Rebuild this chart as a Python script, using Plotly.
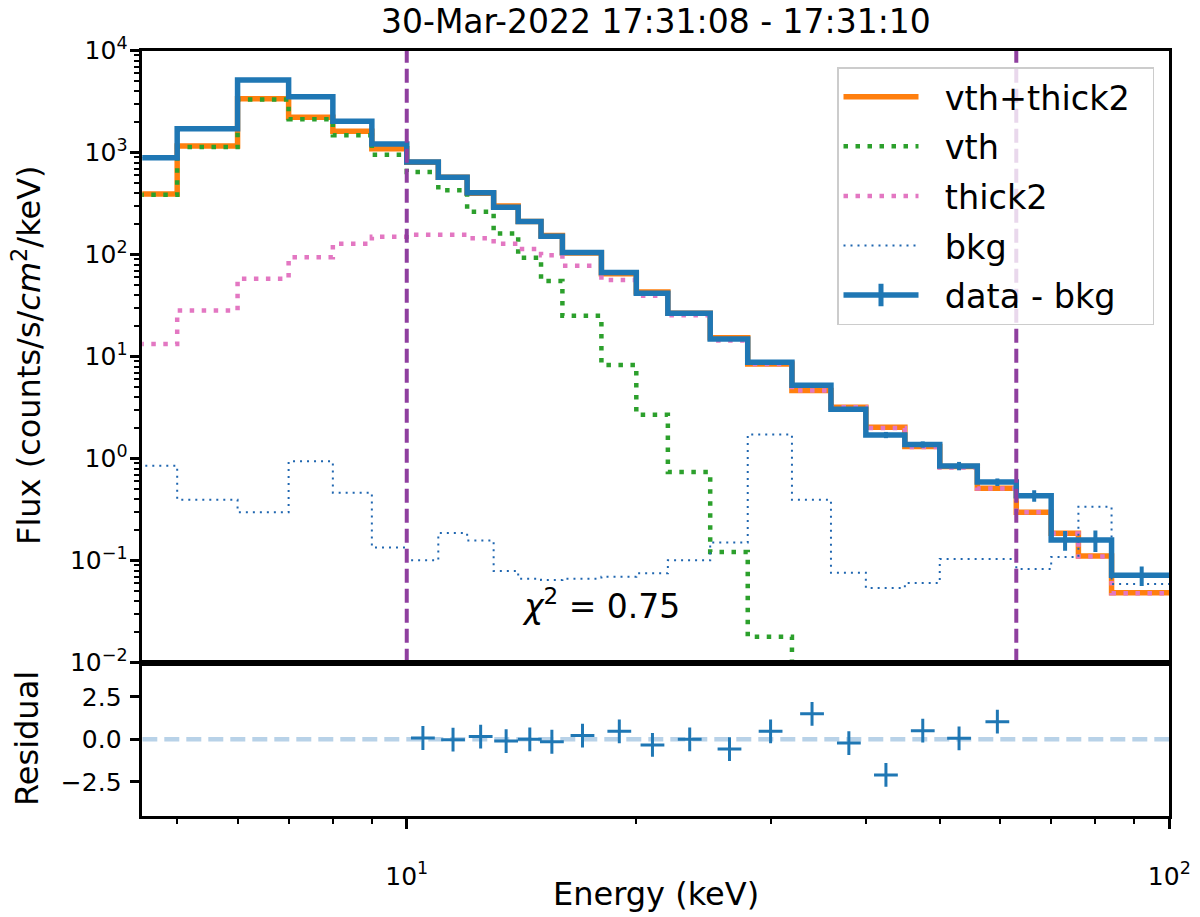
import plotly.graph_objects as go

# STIX energy bin edges (keV)
energy_edges = [4, 5, 6, 7, 8, 9, 10, 11, 12, 13, 14, 15, 16, 18, 20, 22, 25, 28,
                32, 36, 40, 45, 50, 56, 63, 70, 76, 84, 100]

# count flux per bin (counts/s/cm^2/keV)
data_bkg = [890, 1720, 5160, 3540, 2030, 1215, 810, 575, 405, 292, 212, 152, 105,
            67, 42, 26.6, 14.9, 8.8, 5.25, 3.05, 1.71, 1.38, 0.85, 0.59, 0.434,
            0.16, 0.16, 0.072]
data_err = [4, 5, 8, 6, 5, 4, 3.3, 2.8, 2.4, 2, 1.7, 1.5, 1.2, 1.0, 0.8, 0.6, 0.4,
            0.3, 0.24, 0.14, 0.12, 0.097, 0.08, 0.05, 0.056, 0.035, 0.038, 0.0155]
vth_thick2 = [393, 1164, 3383, 2223, 1622, 1094, 805, 576, 400, 300, 212, 154, 104,
              65, 43, 26.6, 15.3, 8.5, 4.65, 3.2, 2.03, 1.32, 0.84, 0.513, 0.299,
              0.186, 0.111, 0.0485]
vth = [386, 1136, 3325, 2129, 1483, 955, 648, 428, 264, 161, 93.5, 55.2, 25.2, 8.3,
       2.7, 0.74, 0.122, 0.018, 2.5e-3, 3e-4, 3e-5, 3e-6, 2e-7, 1e-8, 5e-10,
       2e-11, 5e-13, 1e-15]
thick2 = [13.3, 28.4, 58.2, 94.4, 128, 150, 157, 157, 145, 128, 114, 98.6, 78, 56.5,
          39.6, 25.5, 14.4, 8.5, 4.65, 3.2, 2.0, 1.3, 0.82, 0.51, 0.298, 0.185,
          0.11, 0.048]
bkg = [0.853, 0.396, 0.299, 0.942, 0.464, 0.135, 0.101, 0.187, 0.158, 0.0793,
       0.0667, 0.0647, 0.0667, 0.0697, 0.0752, 0.101, 0.151, 1.73, 0.396, 0.0762,
       0.054, 0.0604, 0.104, 0.104, 0.083, 0.109, 0.338, 0.059]

fit_range = [10, 63]
residual = [0.08, -0.02, 0.16, -0.1, 0.0, -0.14, 0.22, 0.47, -0.33, 0.0, -0.57,
            0.47, 1.5, -0.22, -2.09, 0.51, 0.06, 1.04]
chi2 = 0.75
title = '30-Mar-2022 17:31:08 - 17:31:10'

x_lim = [4.5, 100]
y_lim = [1e-2, 1e4]

blue = '#1f77b4'
orange = '#ff7f0e'
green = '#2ca02c'
pink = '#e377c2'
bkg_col = '#1f66b0'
purple = '#8f3f9f'
FONT = 'DejaVu Sans'

centers = [(a + b) / 2 for a, b in zip(energy_edges[:-1], energy_edges[1:])]
res_x = [c for c in centers if fit_range[0] <= c <= fit_range[1]]

# the page body puts the figure 8px in from the top-left corner
OFF = 8
W, H = 1200, 917


def px(x):
    return (x - OFF) / W


def py(y):
    return 1 - (y - OFF) / H


def steps(vals):
    return energy_edges, list(vals) + [vals[-1]]


fig = go.Figure()

def add_step(vals, color, width, dash):
    sx, sy = steps(vals)
    fig.add_trace(go.Scatter(x=sx, y=sy, mode='lines', line_shape='hv',
                             line=dict(color=color, width=width, dash=dash),
                             showlegend=False, xaxis='x', yaxis='y'))

add_step(vth_thick2, orange, 5.5, 'solid')
add_step(vth, green, 4.5, '4.5px,7.5px')
add_step(thick2, pink, 4.5, '4.5px,7.5px')
add_step(bkg, bkg_col, 2, '2px,5px')
add_step(data_bkg, blue, 5.5, 'solid')

fig.add_trace(go.Scatter(x=centers, y=data_bkg, mode='markers',
                         marker=dict(size=1, color=blue),
                         error_y=dict(type='data', array=data_err, thickness=4,
                                      width=0, color=blue),
                         showlegend=False, xaxis='x', yaxis='y'))

for e in fit_range:
    fig.add_trace(go.Scatter(x=[e, e], y=y_lim, mode='lines',
                             line=dict(color=purple, width=4, dash='14px,6px'),
                             showlegend=False, xaxis='x', yaxis='y'))

# residual panel
fig.add_trace(go.Scatter(x=x_lim, y=[0, 0], mode='lines',
                         line=dict(color='#b8d2e8', width=4.5, dash='15px,7px'),
                         showlegend=False, xaxis='x2', yaxis='y2'))
fig.add_trace(go.Scatter(x=res_x, y=residual, mode='markers',
                         marker=dict(symbol='cross-thin', size=17, color=blue,
                                     line=dict(width=3, color=blue)),
                         showlegend=False, xaxis='x2', yaxis='y2'))

# legend entries
legend_items = [
    ('vth+thick2', dict(color=orange, width=5.5), 'lines', None),
    ('vth', dict(color=green, width=4.5, dash='4.5px,7.5px'), 'lines', None),
    ('thick2', dict(color=pink, width=4.5, dash='4.5px,7.5px'), 'lines', None),
    ('bkg', dict(color=bkg_col, width=2, dash='2px,5px'), 'lines', None),
    ('data - bkg', dict(color=blue, width=5.5), 'lines+markers',
     dict(symbol='line-ns', size=30, line=dict(width=5, color=blue))),
]
for i, (name, ln, mode, mk) in enumerate(legend_items):
    fig.add_trace(go.Scatter(x=[None], y=[None], mode=mode,
                             name='  ' + name + ' \u2009',
                             legendgroup='g%d' % i,
                             line=ln, marker=mk, xaxis='x', yaxis='y'))

x_dom = [px(142.3), px(1169.3)]
main_dom = [py(662.7), py(50.7)]
res_dom = [py(816), py(662.7)]

axis_common = dict(showline=True, linecolor='black', linewidth=2.5, mirror=True,
                   showgrid=False, zeroline=False, automargin=False,
                   tickfont=dict(family=FONT, size=25, color='black'))

main_minor = [m * 10 ** e for e in range(-2, 4) for m in range(2, 10)]
x_minor = [m * 10 ** e for e in range(0, 2) for m in range(2, 10)]

fig.update_layout(
    width=W, height=H,
    margin=dict(l=0, r=0, t=0, b=0, autoexpand=False),
    paper_bgcolor='white', plot_bgcolor='white',
    font=dict(family=FONT, color='black'),
    xaxis=dict(type='log', range=[0.65321, 2], domain=x_dom, anchor='y',
               showticklabels=False, ticks='', **axis_common),
    yaxis=dict(type='log', range=[-2, 4], domain=main_dom, anchor='x',
               tickvals=[1e-2, 1e-1, 1, 10, 100, 1e3, 1e4],
               ticktext=['10<sup>−2</sup>', '10<sup>−1</sup>', '10<sup>0</sup>',
                         '10<sup>1</sup>', '10<sup>2</sup>', '10<sup>3</sup>',
                         '10<sup>4</sup>'],
               ticks='outside', ticklen=10, tickwidth=2.5, tickcolor='black',
               minor=dict(tickvals=main_minor, ticks='outside', ticklen=5.5,
                          tickwidth=2, tickcolor='black'),
               ticklabelstandoff=-3, **axis_common),
    xaxis2=dict(type='log', range=[0.65321, 2], domain=x_dom, anchor='y2',
                tickvals=[10, 100],
                ticktext=['10<sup>1</sup>', '10<sup>2</sup>'],
                ticks='outside', ticklen=10, tickwidth=2.5, tickcolor='black',
                minor=dict(tickvals=x_minor, ticks='outside', ticklen=5.5,
                           tickwidth=2, tickcolor='black'),
                ticklabelstandoff=26, **axis_common),
    yaxis2=dict(range=[-4.5, 4.5], domain=res_dom, anchor='x2',
                tickvals=[-2.5, 0, 2.5], ticktext=['−2.5', '0.0', '2.5'],
                ticks='outside', ticklen=10, tickwidth=2.5, tickcolor='black',
                ticklabelstandoff=3, **axis_common),
    legend=dict(x=px(837), y=py(67), xanchor='left', yanchor='top',
                bgcolor='rgba(255,255,255,0.8)', bordercolor='#cccccc',
                borderwidth=1.5, itemwidth=75, tracegroupgap=3,
                font=dict(family=FONT, size=33.5, color='black')),
    showlegend=True,
)

annotations = [
    dict(text=title, x=656, y=21, size=33),
    dict(text='<i>χ</i><sup>2</sup> = %.2f' % chi2, x=601, y=604, size=33),
    dict(text='Energy (keV)', x=656, y=894, size=32),
    dict(text='Flux (counts/s/<i>cm</i><sup>2</sup>/keV)', x=27, y=355,
         size=32, angle=-90),
    dict(text='Residual', x=27, y=739, size=32, angle=-90),
]
for a in annotations:
    fig.add_annotation(text=a['text'], x=px(a['x']), y=py(a['y']),
                       xref='paper', yref='paper',
                       xanchor='center', yanchor='middle', showarrow=False,
                       textangle=a.get('angle', 0),
                       font=dict(family=FONT, size=a['size'], color='black'))

fig.write_html('out.html')
